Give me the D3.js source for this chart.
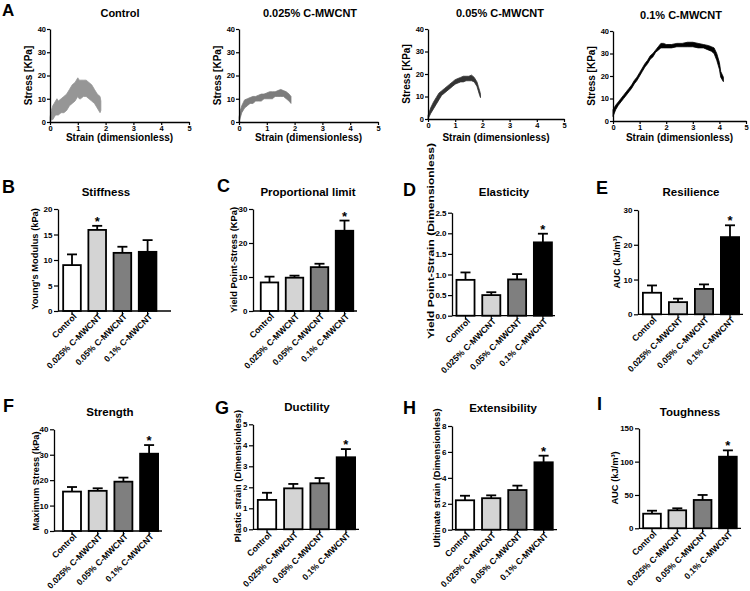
<!DOCTYPE html>
<html><head><meta charset="utf-8">
<script src="https://cdn.jsdelivr.net/npm/d3@7"></script>
<style>
body{margin:0;background:#fff}
svg{display:block}
text{font-family:"Liberation Sans",Arial,sans-serif;font-weight:bold;fill:#000}
</style>
</head><body>
<svg id="c" width="750" height="591"></svg>
<script>
// ---------------- DATA ----------------
const groups = ["Control", "0.025% C-MWCNT", "0.05% C-MWCNT", "0.1% C-MWCNT"];
const groupFills = ["#ffffff", "#d4d4d4", "#7f7f7f", "#000000"];

// Stress-strain curves (envelope of the noisy trace)
const strainTicks = [0, 1, 2, 3, 4, 5];
const stressTicks = [0, 10, 20, 30, 40];

const controlStrain = [0, 0.05, 0.1, 0.15, 0.2, 0.25, 0.3, 0.4, 0.5, 0.6, 0.7, 0.8, 0.9, 1.0, 1.05, 1.1, 1.2, 1.3, 1.4, 1.5, 1.6, 1.7, 1.8, 1.83];
const controlLow    = [0, 1, 1, 2, 3, 3, 3, 4, 4, 5, 7, 8, 9, 11, 10, 10, 11, 11, 10, 9, 8, 6, 4, 5];
const controlHigh   = [2, 5, 7, 8, 9, 10, 9, 10, 11, 12, 14, 16, 17, 19, 18, 18, 18, 18, 17, 16, 14, 12, 11, 9];

const c025Strain = [0, 0.05, 0.1, 0.2, 0.3, 0.4, 0.5, 0.6, 0.7, 0.8, 0.9, 1.0, 1.1, 1.2, 1.3, 1.4, 1.5, 1.6, 1.7, 1.8, 1.87];
const c025Low    = [0, 2, 4, 6, 7, 8, 8, 9, 9, 9, 10, 10, 10, 10, 11, 11, 11, 11, 10, 9, 8];
const c025High   = [2, 5, 7, 9.5, 10, 10.5, 11, 11, 11.5, 12, 12, 12.5, 13, 13, 13, 13.5, 14, 13.5, 13, 12, 11];

const c05Strain = [0, 0.1, 0.2, 0.3, 0.4, 0.5, 0.6, 0.7, 0.8, 0.9, 1.0, 1.1, 1.2, 1.3, 1.4, 1.5, 1.6, 1.7, 1.8, 1.85, 1.9, 1.93];
const c05Low    = [0, 2.5, 4.5, 6.5, 8.5, 10.5, 11.5, 12.5, 13.5, 14.5, 15.5, 16, 16.5, 16.5, 17, 17, 17, 16.5, 14.5, 12.5, 10.5, 9.5];
const c05High   = [1.5, 5, 7.5, 9.5, 11.5, 12.5, 13.5, 14.5, 15.5, 16.5, 17.5, 18, 18.5, 19, 19, 19, 19.5, 18.5, 16.5, 14.5, 12.5, 11];

const c1Strain = [0, 0.1, 0.2, 0.3, 0.4, 0.5, 0.6, 0.7, 0.8, 0.9, 1.0, 1.1, 1.2, 1.3, 1.4, 1.5, 1.6, 1.7, 1.8, 1.9, 2.0, 2.2, 2.4, 2.6, 2.8, 3.0, 3.2, 3.4, 3.6, 3.7, 3.8, 3.9, 4.0, 4.05, 4.15];
const c1Low    = [2, 5, 7, 8.5, 10, 11.5, 13, 14.5, 16.5, 18, 20, 22, 24, 25.5, 27.5, 28.5, 30.5, 31.5, 32.5, 32.5, 32.5, 32.5, 33, 33, 33, 33, 32.5, 32.5, 31.5, 31, 30, 27, 23, 19.5, 17.5];
const c1High   = [5, 7, 8.5, 10, 11.5, 13, 14.5, 16, 18, 19.5, 21.5, 23.5, 25.5, 27, 29, 30, 31.5, 33, 34.5, 34.5, 34, 34, 34.5, 34.5, 35, 35, 34.5, 34, 33.5, 33, 32.5, 30, 26, 22, 19.5];

// Bar panels: mean and error (SEM, upward whisker)
const stiffnessMean = [9.0, 15.9, 11.4, 11.6];
const stiffnessErr  = [2.1, 0.8, 1.2, 2.3];
const stiffnessTicks = [0, 5, 10, 15, 20];

const propLimitMean = [8.4, 9.8, 12.9, 23.6];
const propLimitErr  = [1.7, 0.6, 1.0, 3.0];
const propLimitTicks = [0, 10, 20, 30];

const elasticityMean = [0.87, 0.50, 0.88, 1.78];
const elasticityErr  = [0.18, 0.07, 0.13, 0.21];
const elasticityTicks = [0, 0.5, 1.0, 1.5, 2.0, 2.5];

const resilienceMean = [6.2, 3.5, 7.3, 22.2];
const resilienceErr  = [2.1, 1.0, 1.3, 3.4];
const resilienceTicks = [0, 10, 20, 30];

const strengthMean = [15.5, 15.8, 19.4, 30.4];
const strengthErr  = [1.8, 1.0, 1.6, 3.4];
const strengthTicks = [0, 10, 20, 30, 40];

const ductilityMean = [1.40, 1.95, 2.19, 3.43];
const ductilityErr  = [0.34, 0.21, 0.25, 0.39];
const ductilityTicks = [0, 1, 2, 3, 4, 5];

const extensibilityMean = [2.27, 2.43, 3.06, 5.2];
const extensibilityErr  = [0.35, 0.22, 0.34, 0.51];
const extensibilityTicks = [0, 2, 4, 6, 8];

const toughnessMean = [21.9, 27.0, 42.5, 107.4];
const toughnessErr  = [4.5, 3.0, 7.5, 9.5];
const toughnessTicks = [0, 50, 100, 150];

// ---------------- DRAWING ----------------
const svg = d3.select("#c");
const FONT = '"Liberation Sans", Arial, sans-serif';

function styleAxis(g, fs) {
  g.attr("font-family", FONT).attr("font-size", fs).attr("font-weight", "bold");
  g.selectAll("path.domain").attr("stroke", "#000").attr("stroke-width", 1.3);
  g.selectAll(".tick line").attr("stroke", "#000").attr("stroke-width", 1.2);
  g.selectAll(".tick text").attr("fill", "#000");
}

function label(txt, x, y, size, anchor) {
  svg.append("text").attr("x", x).attr("y", y).attr("font-size", size)
    .attr("text-anchor", anchor || "middle").text(txt);
}

// Top row: stress-strain curves
const curvePanels = [
  {title: groups[0], strain: controlStrain, low: controlLow, high: controlHigh, color: "#969696", x0: 50, x1: 189, yb: 122, yt: 29, tx: 120, ty: 17},
  {title: groups[1], strain: c025Strain, low: c025Low, high: c025High, color: "#7d7d7d", x0: 239, x1: 378, yb: 122, yt: 29, tx: 310, ty: 17},
  {title: groups[2], strain: c05Strain, low: c05Low, high: c05High, color: "#333333", x0: 428, x1: 564, yb: 119, yt: 29, tx: 500, ty: 17},
  {title: groups[3], strain: c1Strain, low: c1Low, high: c1High, color: "#000000", x0: 613, x1: 746, yb: 121, yt: 31, tx: 681, ty: 19}
];

curvePanels.forEach(p => {
  const x = d3.scaleLinear().domain([0, 5]).range([p.x0, p.x1]);
  const y = d3.scaleLinear().domain([0, 40]).range([p.yb, p.yt]);
  const area = d3.area()
    .x((d, i) => x(p.strain[i]))
    .y0((d, i) => y(p.low[i]))
    .y1((d, i) => y(p.high[i]));
  svg.append("path").datum(p.strain).attr("d", area)
    .attr("fill", p.color).attr("stroke", p.color).attr("stroke-width", 0.8).attr("stroke-linejoin", "round");

  const gx = svg.append("g").attr("transform", `translate(0,${p.yb})`)
    .call(d3.axisBottom(x).tickValues(strainTicks).tickFormat(d3.format("d")).tickSize(3).tickSizeOuter(0).tickPadding(1));
  styleAxis(gx, 7.5);
  const gy = svg.append("g").attr("transform", `translate(${p.x0},0)`)
    .call(d3.axisLeft(y).tickValues(stressTicks).tickFormat(d3.format("d")).tickSize(3).tickSizeOuter(0).tickPadding(1));
  styleAxis(gy, 7.5);

  label(p.title, p.tx, p.ty, 11);
  label("Strain (dimensionless)", (p.x0 + p.x1) / 2, 141, 10);
  svg.append("text").attr("transform", `translate(${p.x0 - 18},${(p.yb + p.yt) / 2}) rotate(-90)`)
    .attr("font-size", 10).attr("text-anchor", "middle").text("Stress [KPa]");
});
label("A", 2, 16, 17, "start");

// Bar panels
const barPanels = [
  {letter: "B", lx: 2, ly: 193, title: "Stiffness", tx: 106, ty: 196, ylab: "Young's Modulus (kPa)", ylx: 35, ylc: 259,
   mean: stiffnessMean, err: stiffnessErr, ticks: stiffnessTicks, fmt: d3.format("d"), sig: 1,
   ax: 58, xe: 171, yb: 311, yt: 209, c0: 72, step: 25.2},
  {letter: "C", lx: 217, ly: 192, title: "Proportional limit", tx: 308, ty: 196, ylab: "Yield Point-Stress (KPa)", ylx: 234, ylc: 260,
   mean: propLimitMean, err: propLimitErr, ticks: propLimitTicks, fmt: d3.format("d"), sig: 3,
   ax: 253, xe: 357, yb: 311, yt: 209, c0: 269.5, step: 25},
  {letter: "D", lx: 403, ly: 196, title: "Elasticity", tx: 504, ty: 196, ylab: "Yield Point-Strain (Dimensionless)", ylx: 431, ylc: 241, ylen: 196,
   mean: elasticityMean, err: elasticityErr, ticks: elasticityTicks, fmt: d3.format(".1f"), sig: 3,
   ax: 452, xe: 555, yb: 315.7, yt: 212.7, c0: 465.5, step: 25.8},
  {letter: "E", lx: 596, ly: 194, title: "Resilience", tx: 691, ty: 196, ylab: "AUC (kJ/m³)", ylx: 617, ylc: 262,
   mean: resilienceMean, err: resilienceErr, ticks: resilienceTicks, fmt: d3.format("d"), sig: 3,
   ax: 638, xe: 743, yb: 314.3, yt: 210, c0: 652, step: 26},
  {letter: "F", lx: 3, ly: 412, title: "Strength", tx: 110, ty: 416, ylab: "Maximum Stress (kPa)", ylx: 36, ylc: 481,
   mean: strengthMean, err: strengthErr, ticks: strengthTicks, fmt: d3.format("d"), sig: 3,
   ax: 54, xe: 162, yb: 531, yt: 429.3, c0: 72, step: 25.7},
  {letter: "G", lx: 215, ly: 414, title: "Ductility", tx: 307, ty: 411, ylab: "Plastic strain (Dimensionless)", ylx: 238, ylc: 476,
   mean: ductilityMean, err: ductilityErr, ticks: ductilityTicks, fmt: d3.format("d"), sig: 3,
   ax: 253, xe: 359, yb: 529.3, yt: 424.3, c0: 267, step: 26.3},
  {letter: "H", lx: 403, ly: 414, title: "Extensibility", tx: 503, ty: 412, ylab: "Ultimate strain (Dimensionless)", ylx: 437, ylc: 478,
   mean: extensibilityMean, err: extensibilityErr, ticks: extensibilityTicks, fmt: d3.format("d"), sig: 3,
   ax: 452, xe: 557, yb: 529.7, yt: 426, c0: 465, step: 26.2},
  {letter: "I", lx: 597, ly: 410, title: "Toughness", tx: 690, ty: 416, ylab: "AUC (kJ/m³)", ylx: 615, ylc: 478,
   mean: toughnessMean, err: toughnessErr, ticks: toughnessTicks, fmt: d3.format("d"), sig: 3,
   ax: 639, xe: 741, yb: 528.3, yt: 428.3, c0: 652, step: 25.3}
];

barPanels.forEach(p => {
  const x = d3.scaleBand().domain(groups)
    .range([p.c0 - p.step / 2, p.c0 + p.step * 3.5]).paddingInner(0.3).paddingOuter(0.15);
  const y = d3.scaleLinear().domain([0, p.ticks[p.ticks.length - 1]]).range([p.yb, p.yt]);
  const g = svg.append("g");

  // bars
  g.selectAll("rect").data(groups).join("rect")
    .attr("x", d => x(d)).attr("width", x.bandwidth())
    .attr("y", (d, i) => y(p.mean[i])).attr("height", (d, i) => p.yb - y(p.mean[i]))
    .attr("fill", (d, i) => groupFills[i]).attr("stroke", "#000").attr("stroke-width", 1.8);

  // error whiskers (upward)
  groups.forEach((d, i) => {
    const cx = x(d) + x.bandwidth() / 2;
    const yTop = y(p.mean[i] + p.err[i]);
    g.append("line").attr("x1", cx).attr("x2", cx).attr("y1", y(p.mean[i])).attr("y2", yTop)
      .attr("stroke", "#000").attr("stroke-width", 1.8);
    g.append("line").attr("x1", cx - 5).attr("x2", cx + 5).attr("y1", yTop).attr("y2", yTop)
      .attr("stroke", "#000").attr("stroke-width", 1.8);
    if (i === p.sig) {
      g.append("text").attr("x", cx).attr("y", yTop).attr("text-anchor", "middle")
        .attr("font-size", 13).text("*");
    }
  });

  // y axis
  const gy = svg.append("g").attr("transform", `translate(${p.ax},0)`)
    .call(d3.axisLeft(y).tickValues(p.ticks).tickFormat(p.fmt).tickSize(4).tickSizeOuter(0).tickPadding(1.5));
  styleAxis(gy, 8);

  // x axis line + ticks + rotated labels
  svg.append("line").attr("x1", p.ax).attr("x2", p.xe).attr("y1", p.yb).attr("y2", p.yb)
    .attr("stroke", "#000").attr("stroke-width", 1.3);
  groups.forEach(d => {
    const cx = x(d) + x.bandwidth() / 2;
    svg.append("line").attr("x1", cx).attr("x2", cx).attr("y1", p.yb).attr("y2", p.yb + 4)
      .attr("stroke", "#000").attr("stroke-width", 1.2);
    svg.append("text").attr("transform", `translate(${cx + 3},${p.yb + 4}) rotate(-45)`)
      .attr("text-anchor", "end").attr("dy", "0.35em").attr("font-size", 8.6).text(d);
  });

  // titles and labels
  label(p.title, p.tx, p.ty, 11.5);
  label(p.letter, p.lx, p.ly, 18, "start");
  const yl = svg.append("text").attr("transform", `translate(${p.ylx},${p.ylc}) rotate(-90)`)
    .attr("font-size", 9.3).attr("text-anchor", "middle").attr("dy", "0.35em").text(p.ylab);
  if (p.ylen) yl.attr("textLength", p.ylen).attr("lengthAdjust", "spacingAndGlyphs");
});
</script>
</body></html>
